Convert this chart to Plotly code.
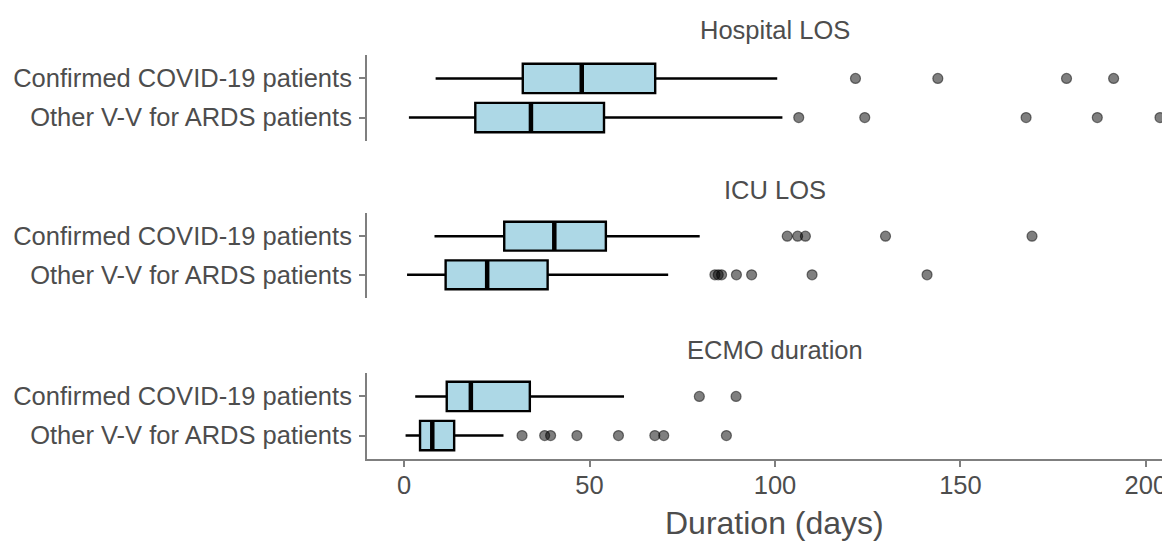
import plotly.graph_objects as go

# ---------------- data ----------------
panels = ["Hospital LOS", "ICU LOS", "ECMO duration"]
groups = ["Confirmed COVID-19 patients", "Other V-V for ARDS patients"]

# per panel, per group: [lowerfence, q1, median, q3, upperfence]
hosp_covid = [8.5, 32.0, 47.9, 67.7, 100.6]
hosp_other = [1.3, 19.2, 34.2, 53.9, 102.0]
icu_covid = [8.2, 27.0, 40.5, 54.4, 79.7]
icu_other = [0.8, 11.2, 22.4, 38.7, 71.2]
ecmo_covid = [3.0, 11.5, 18.0, 33.9, 59.3]
ecmo_other = [0.4, 4.3, 7.6, 13.5, 26.8]

hosp_covid_out = [121.7, 143.9, 178.6, 191.3]
hosp_other_out = [106.4, 124.2, 167.7, 186.9, 203.8]
icu_covid_out = [103.3, 106.1, 108.2, 129.8, 169.3]
icu_other_out = [83.8, 84.7, 85.6, 89.6, 93.7, 110.0, 141.0]
ecmo_covid_out = [79.6, 89.5]
ecmo_other_out = [31.8, 37.9, 39.5, 46.6, 57.8, 67.6, 70.0, 86.9]

x_ticks = [0, 50, 100, 150, 200]

stats = [
    (hosp_covid, hosp_other, hosp_covid_out, hosp_other_out),
    (icu_covid, icu_other, icu_covid_out, icu_other_out),
    (ecmo_covid, ecmo_other, ecmo_covid_out, ecmo_other_out),
]

# ---------------- figure ----------------
# page body has an 8px margin: lay out in screen pixels, then shift by 8
OFF = 8
W, H = 1170 - OFF, 542 - OFF
ml, mr, mt, mb = 367 - OFF, 0, 0, 83
plot_h = H - mt - mb          # screen y from 8 to 459

def sy(py):                   # screen y -> paper fraction
    return (459 - py) / plot_h

def sx(px):                   # screen x -> paper fraction
    return (px - 367) / (W - ml - mr)

domains = [[sy(141), sy(55)], [sy(298), sy(213)], [sy(459), sy(373)]]
title_py = [30, 190, 350]

TXT = "#4D4D4D"
AX = "#7F7F7F"
FONT = "Liberation Sans, Arial, Helvetica, sans-serif"
BOXW = 0.75
FS = 25.5

fig = go.Figure()

for i, (s_cov, s_oth, o_cov, o_oth) in enumerate(stats):
    yref = "y" if i == 0 else f"y{i+1}"
    for pos, s, outs in [(2, s_cov, o_cov), (1, s_oth, o_oth)]:
        lf, q1, med, q3, uf = s
        fig.add_trace(go.Box(
            orientation="h", y=[pos], q1=[q1], median=[med], q3=[q3],
            lowerfence=[lf], upperfence=[uf], boxpoints=False,
            width=BOXW, whiskerwidth=0,
            fillcolor="#ADD8E6", line=dict(color="black", width=2.4),
            xaxis="x", yaxis=yref, showlegend=False, hoverinfo="skip",
        ))
        # thick median line
        fig.add_trace(go.Scatter(
            x=[med, med], y=[pos - BOXW / 2, pos + BOXW / 2], mode="lines",
            line=dict(color="black", width=4.5), xaxis="x", yaxis=yref,
            showlegend=False, hoverinfo="skip",
        ))
        fig.add_trace(go.Scatter(
            x=outs, y=[pos] * len(outs), mode="markers",
            marker=dict(size=10, color="rgba(0,0,0,0.5)",
                        line=dict(color="rgba(0,0,0,0.5)", width=1.2)),
            xaxis="x", yaxis=yref, showlegend=False, hoverinfo="skip",
        ))

layout = dict(
    width=W, height=H,
    margin=dict(l=ml, r=mr, t=mt, b=mb, autoexpand=False),
    plot_bgcolor="white", paper_bgcolor="white",
    font=dict(family=FONT, color=TXT, size=FS),
    xaxis=dict(
        range=[-10, 206.5], anchor="y3", tickvals=x_ticks,
        ticktext=[str(v) for v in x_ticks],
        showline=True, linecolor=AX, linewidth=2,
        ticks="outside", ticklen=6, tickwidth=2, tickcolor=AX,
        showgrid=False, zeroline=False, automargin=False,
        tickfont=dict(size=FS, color=TXT), ticklabelstandoff=-4,
    ),
)
for i in range(3):
    key = "yaxis" if i == 0 else f"yaxis{i+1}"
    layout[key] = dict(
        domain=domains[i], range=[0.4, 2.6], anchor="x",
        tickvals=[2, 1], ticktext=groups,
        showline=True, linecolor=AX, linewidth=2,
        ticks="outside", ticklen=6, tickwidth=2, tickcolor=AX,
        showgrid=False, zeroline=False, automargin=False,
        tickfont=dict(size=FS, color=TXT), ticklabelstandoff=2,
    )

annotations = []
for i, name in enumerate(panels):
    annotations.append(dict(
        text=name, xref="paper", yref="paper",
        x=sx(775), y=sy(title_py[i]),
        xanchor="center", yanchor="middle", showarrow=False,
        font=dict(size=FS, color=TXT),
    ))
annotations.append(dict(
    text="Duration (days)", xref="paper", yref="paper",
    x=sx(774), y=sy(523),
    xanchor="center", yanchor="middle", showarrow=False,
    font=dict(size=32, color=TXT),
))
layout["annotations"] = annotations

fig.update_layout(**layout)
fig.write_html("out.html")
